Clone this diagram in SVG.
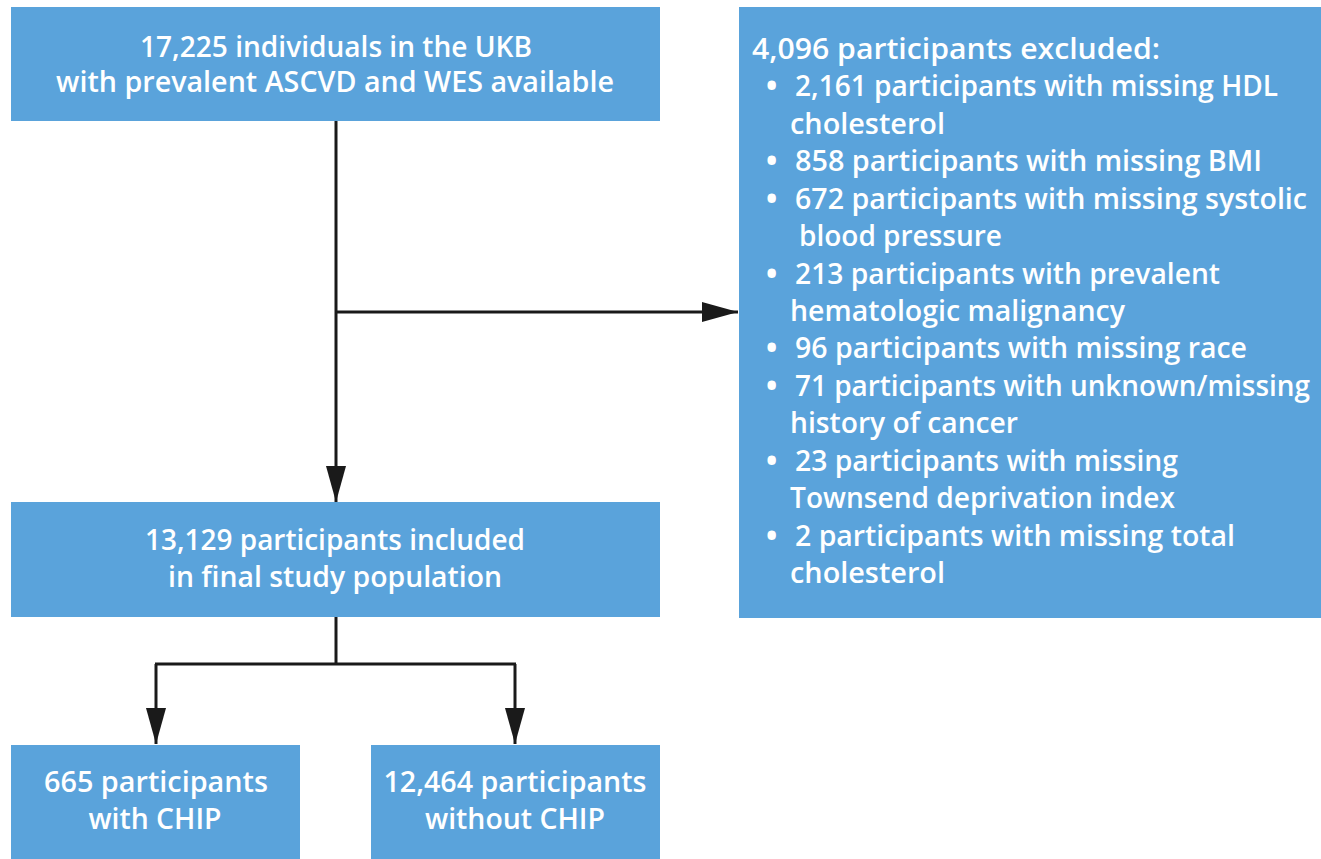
<svg xmlns="http://www.w3.org/2000/svg" width="1321" height="859" viewBox="0 0 1321 859">
  <style>
    .box { fill: #5aa3db; }
    .t { font-family: "Open Sans", Roboto, "Liberation Sans", sans-serif; font-size: 28.5px; font-weight: 600; fill: #ffffff; }
    .b { font-weight: 700; font-size: 30px; }
    .c { text-anchor: middle; }
    .line { fill: none; stroke: #1a1a1a; stroke-width: 3; }
  </style>
  <defs>
    <marker id="arrow" viewBox="0 0 36 20" refX="36" refY="10" markerWidth="36" markerHeight="20" markerUnits="userSpaceOnUse" orient="auto">
      <path d="M0,0 L36,10 L0,20 Z" fill="#1a1a1a"/>
    </marker>
  </defs>
  <rect width="1321" height="859" fill="#ffffff"/>

  <g id="connectors">
    <path class="line" d="M336,121 V502" marker-end="url(#arrow)"/>
    <path class="line" d="M336,312 H738" marker-end="url(#arrow)"/>
    <path class="line" d="M336,617 V664"/>
    <path class="line" d="M155,664 H516"/>
    <path class="line" d="M156,664 V744" marker-end="url(#arrow)"/>
    <path class="line" d="M515,664 V744" marker-end="url(#arrow)"/>
  </g>

  <g id="node-start">
    <rect class="box" x="11" y="7" width="649" height="114"/>
    <text class="t c" x="336" y="57" textLength="392" lengthAdjust="spacingAndGlyphs">17,225 individuals in the UKB</text>
    <text class="t c" x="335" y="92" textLength="558" lengthAdjust="spacingAndGlyphs">with prevalent ASCVD and WES available</text>
  </g>

  <g id="node-excluded">
    <rect class="box" x="739" y="7" width="582" height="611"/>
    <text class="t" x="752" y="59" textLength="408" lengthAdjust="spacingAndGlyphs">4,096 participants excluded:</text>
    <text class="t b" x="766" y="96">•</text>
    <text class="t" x="795" y="96" textLength="483" lengthAdjust="spacingAndGlyphs">2,161 participants with missing HDL</text>
    <text class="t" x="790" y="134" textLength="155" lengthAdjust="spacingAndGlyphs">cholesterol</text>
    <text class="t b" x="766" y="171">•</text>
    <text class="t" x="795" y="171" textLength="467" lengthAdjust="spacingAndGlyphs">858 participants with missing BMI</text>
    <text class="t b" x="766" y="209">•</text>
    <text class="t" x="795" y="209" textLength="512" lengthAdjust="spacingAndGlyphs">672 participants with missing systolic</text>
    <text class="t" x="799" y="246" textLength="203" lengthAdjust="spacingAndGlyphs">blood pressure</text>
    <text class="t b" x="766" y="284">•</text>
    <text class="t" x="795" y="284" textLength="425" lengthAdjust="spacingAndGlyphs">213 participants with prevalent</text>
    <text class="t" x="790" y="321" textLength="335" lengthAdjust="spacingAndGlyphs">hematologic malignancy</text>
    <text class="t b" x="766" y="358">•</text>
    <text class="t" x="795" y="358" textLength="452" lengthAdjust="spacingAndGlyphs">96 participants with missing race</text>
    <text class="t b" x="766" y="396">•</text>
    <text class="t" x="795" y="396" textLength="515" lengthAdjust="spacingAndGlyphs">71 participants with unknown/missing</text>
    <text class="t" x="790" y="433" textLength="228" lengthAdjust="spacingAndGlyphs">history of cancer</text>
    <text class="t b" x="766" y="471">•</text>
    <text class="t" x="795" y="471" textLength="383" lengthAdjust="spacingAndGlyphs">23 participants with missing</text>
    <text class="t" x="790" y="508" textLength="385" lengthAdjust="spacingAndGlyphs">Townsend deprivation index</text>
    <text class="t b" x="766" y="546">•</text>
    <text class="t" x="795" y="546" textLength="440" lengthAdjust="spacingAndGlyphs">2 participants with missing total</text>
    <text class="t" x="790" y="583" textLength="155" lengthAdjust="spacingAndGlyphs">cholesterol</text>
  </g>

  <g id="node-included">
    <rect class="box" x="11" y="502" width="649" height="115"/>
    <text class="t c" x="335" y="550" textLength="380" lengthAdjust="spacingAndGlyphs">13,129 participants included</text>
    <text class="t c" x="335" y="587" textLength="334" lengthAdjust="spacingAndGlyphs">in final study population</text>
  </g>

  <g id="node-chip">
    <rect class="box" x="11" y="745" width="289" height="114"/>
    <text class="t c" x="156" y="792" textLength="224" lengthAdjust="spacingAndGlyphs">665 participants</text>
    <text class="t c" x="155" y="829" textLength="133" lengthAdjust="spacingAndGlyphs">with CHIP</text>
  </g>

  <g id="node-no-chip">
    <rect class="box" x="371" y="745" width="289" height="114"/>
    <text class="t c" x="515" y="792" textLength="263" lengthAdjust="spacingAndGlyphs">12,464 participants</text>
    <text class="t c" x="515" y="829" textLength="180" lengthAdjust="spacingAndGlyphs">without CHIP</text>
  </g>
</svg>
